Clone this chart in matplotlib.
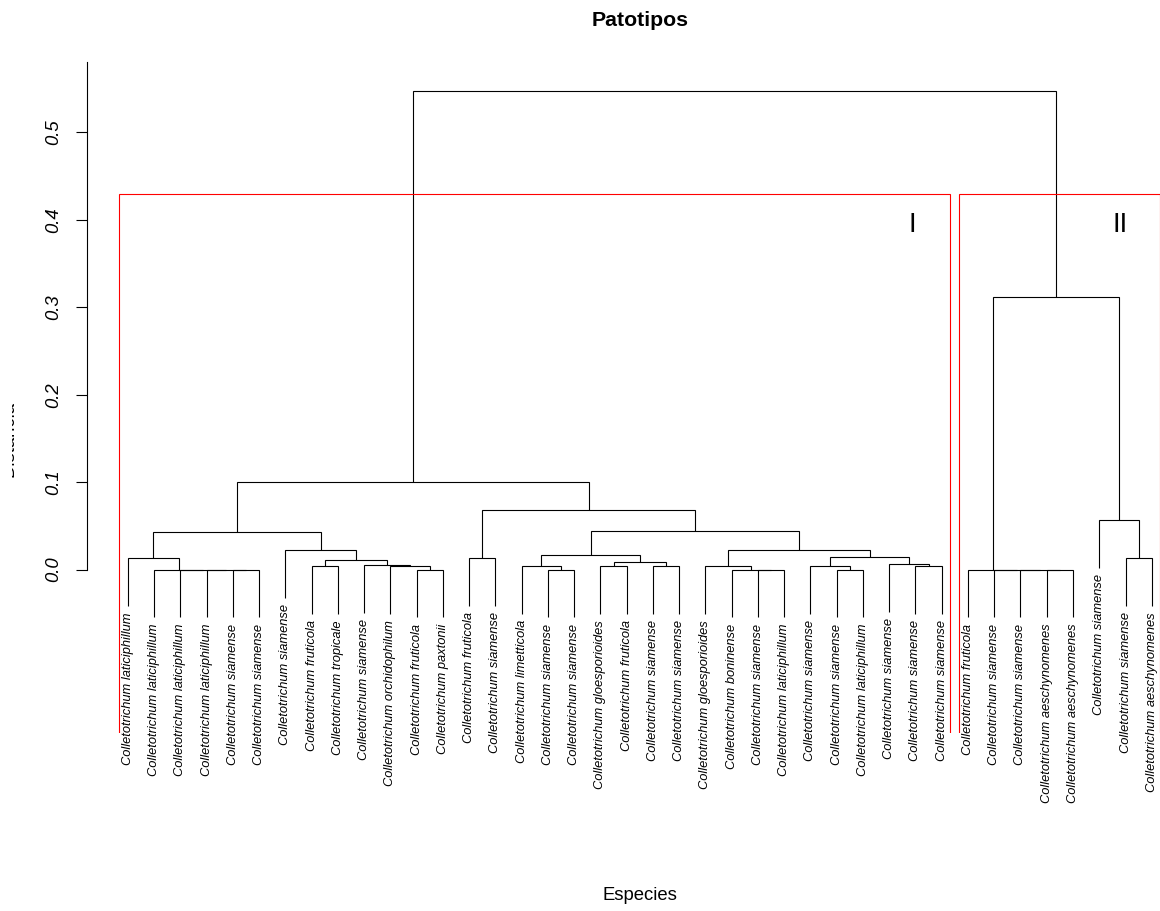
import numpy as np
import matplotlib
matplotlib.use("Agg")
from matplotlib import pyplot as plt
from matplotlib.transforms import Bbox

plt.rcParams['font.family'] = ['Liberation Sans', 'DejaVu Sans']

# Leaves in plotted order (left to right)
species = ["laticiphillum", "laticiphillum", "laticiphillum", "laticiphillum",
           "siamense", "siamense", "siamense", "fruticola", "tropicale",
           "siamense", "orchidophilum", "fruticola", "paxtonii", "fruticola",
           "siamense", "limetticola", "siamense", "siamense", "gloesporioides",
           "fruticola", "siamense", "siamense", "gloesporioides", "boninense",
           "siamense", "laticiphillum", "siamense", "siamense", "laticiphillum",
           "siamense", "siamense", "siamense",
           "fruticola", "siamense", "siamense", "aeschynomenes", "aeschynomenes",
           "siamense", "siamense", "aeschynomenes"]
labels = ["Colletotrichum " + s for s in species]

# merge table, R style: negative = leaf (position in plot), positive = earlier row
merge_a = [-5, -4, -3, -2, -1, -8, -12, -11, -10, 6, -7, 5,
           -14, -17, -16, -19, -21, 16, 15, -25, -24, -23, -28, -27, -31, -30,
           24, 22, 19, 13, 12,
           -36, -35, -34, -33, -39, -38, 35, 31]
merge_b = [-6, 1, 2, 3, 4, -9, -13, 7, 8, 9, 10, 11,
           -15, -18, 14, -20, -22, 17, 18, -26, 20, 21, -29, 23, -32, 25,
           26, 27, 28, 29, 30,
           -37, 32, 33, 34, -40, 36, 37, 38]
heights = [0.0, 0.0, 0.0, 0.0, 0.0128, 0.0040, 0.0, 0.0043, 0.0055, 0.0109, 0.0220, 0.0425,
           0.0128, 0.0, 0.0043, 0.0043, 0.0043, 0.0086, 0.0162, 0.0, 0.0, 0.0043, 0.0, 0.0043,
           0.0043, 0.0063, 0.0140, 0.0227, 0.0444, 0.0680, 0.0997,
           0.0, 0.0, 0.0, 0.0, 0.0128, 0.0566, 0.312, 0.548]

cluster_sizes = [32, 8]
cluster_names = ["I", "II"]
yticks = [0.0, 0.1, 0.2, 0.3, 0.4, 0.5]

n = len(labels)
hang = 0.1 * (max(heights) - min(heights))

fig = plt.figure(figsize=(11.6, 9.11), dpi=100)
ax = fig.add_axes([0.07504, 0.1954, 0.95315, 0.7369])

node_x = {}
lc = 'black'
lw = 0.8
for i, (a, b, h) in enumerate(zip(merge_a, merge_b, heights)):
    xs, ys = [], []
    for c in (a, b):
        if c < 0:
            x = -c
            y = h - hang
            ax.annotate(labels[x - 1], (x, y), xytext=(0, -4.5),
                        textcoords='offset points', rotation=90,
                        ha='center', va='top', fontsize=9.25,
                        fontstyle='italic', annotation_clip=False)
        else:
            x = node_x[c]
            y = heights[c - 1]
        xs.append(x)
        ys.append(y)
    ax.plot([xs[0], xs[0], xs[1], xs[1]], [ys[0], h, h, ys[1]],
            color=lc, lw=lw, solid_capstyle='butt', solid_joinstyle='miter')
    node_x[i + 1] = (xs[0] + xs[1]) / 2

# rect.hclust style boxes, k = 2 (bottom edge falls on the plot border)
ylo = -0.187
top = (heights[-1] + heights[-2]) / 2
edges = np.concatenate([[0], np.cumsum(cluster_sizes)])
for j in range(len(cluster_sizes)):
    x0 = edges[j] + 0.66
    x1 = edges[j + 1] + 0.33
    ax.plot([x0, x0, x1, x1], [ylo, top, top, ylo], color='red', lw=0.8,
            solid_joinstyle='miter')

ax.text(30.87, 0.394, cluster_names[0], fontsize=20, ha='center', va='center')
ax.text(38.8, 0.394, cluster_names[1], fontsize=20, ha='center', va='center')

ax.set_xlim(1 - 0.04 * (n - 1), n + 0.04 * (n - 1))
ax.set_ylim(ylo, 0.581)
for s in ['top', 'right', 'bottom']:
    ax.spines[s].set_visible(False)
ax.spines['left'].set_bounds(0, 0.581)
ax.spines['left'].set_linewidth(0.8)
ax.set_xticks([])
ax.set_yticks(yticks)
ax.set_yticklabels(['{:.1f}'.format(t) for t in yticks], rotation=90,
                   va='center', fontstyle='italic', fontsize=13.3)
ax.tick_params(axis='y', length=8, width=0.8, pad=10)

fig.text(640 / 1160, 1 - 20 / 911, "Patotipos", ha='center', va='center',
         fontsize=15.3, fontweight='bold')
fig.text(640 / 1160, 1 - 896 / 911, "Especies", ha='center', va='center',
         fontsize=13.3)
# y label sits almost entirely outside the device, only a sliver shows
yl = fig.text(18 / 1160, 1 - 439 / 911, "Distancia", rotation=90, ha='right',
              va='center', fontsize=13.3, clip_on=True)
yl.set_clip_box(Bbox.from_extents(12, 911 - 490, 15.5, 911 - 390))

fig.savefig("out.png", dpi=100)
